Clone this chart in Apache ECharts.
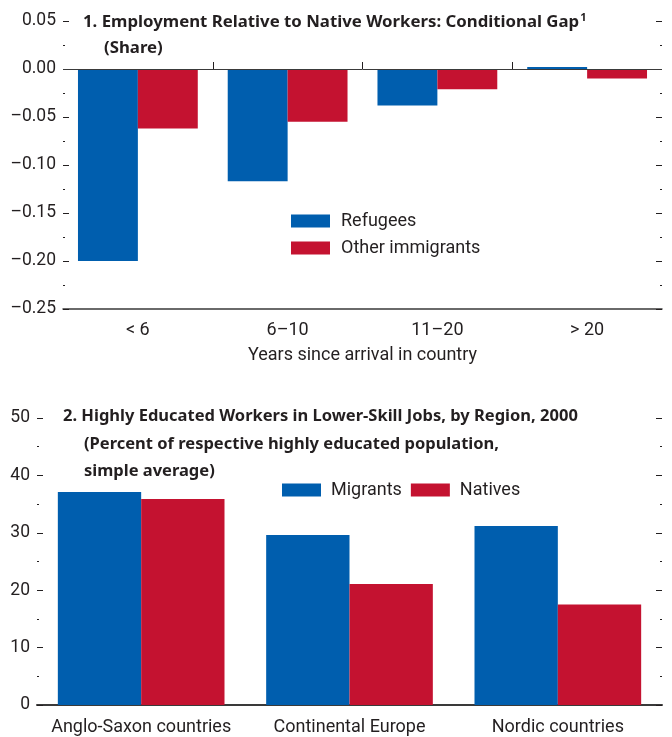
<!DOCTYPE html>
<html>
<head>
<meta charset="utf-8">
<script src="https://cdn.jsdelivr.net/npm/echarts@6/dist/echarts.min.js"></script>
<style>html,body{margin:0;padding:0;background:#fff}#c{width:672px;height:737px}</style>
</head>
<body>
<div id="c"></div>
<script>
// ---- Panel 1 data ----
const cats1 = ['< 6', '6–10', '11–20', '> 20'];
const refugees = [-0.200, -0.117, -0.038, 0.002];
const otherImmigrants = [-0.062, -0.055, -0.021, -0.010];
const yTicks1 = { min: -0.25, max: 0.05, step: 0.05 };
const boundaryTicks1 = [1, 2, 3];

// ---- Panel 2 data ----
const cats2 = ['Anglo-Saxon countries', 'Continental Europe', 'Nordic countries'];
const migrants = [37.1, 29.6, 31.2];
const natives = [35.9, 21.1, 17.5];
const yTicks2 = { min: 0, max: 50, step: 10 };

const FONT = 'Roboto, "Liberation Sans", sans-serif';
const TFONT = '"Noto Sans", Roboto, sans-serif';
const TSIZE = 16.8;
const TXT = '#231f20';
const BLUE = '#005eae';
const RED = '#c41230';

const chart = echarts.init(document.getElementById('c'), null, { renderer: 'canvas' });

function yAxisDef(grid, pos, t, fmt) {
  return {
    type: 'value', gridIndex: grid, position: pos,
    min: t.min, max: t.max, interval: t.step,
    axisLine: { show: false },
    axisTick: { show: true, inside: true, length: 6, lineStyle: { color: TXT, width: 1 } },
    minorTick: { show: true, splitNumber: 2, length: 2, lineStyle: { color: TXT, width: 1 } },
    splitLine: { show: false },
    axisLabel: pos === 'left' ? { show: true, formatter: fmt, color: TXT, fontFamily: FONT, fontSize: 17.5, margin: 7 } : { show: false }
  };
}

const titleStyle = { fontFamily: TFONT, fontWeight: 'bold', fontSize: TSIZE, color: TXT };

const option = {
  animation: false,
  backgroundColor: '#fff',
  textStyle: { fontFamily: FONT, color: TXT },
  title: [
    {
      left: 78, top: 7,
      text: '{t|1. Employment Relative to Native Workers: Conditional Gap}{s|1}',
      textStyle: { rich: {
        t: titleStyle,
        s: { fontFamily: TFONT, fontWeight: 'bold', fontSize: 11, color: TXT, padding: [0, 0, 9, 1] }
      } }
    },
    { left: 99, top: 35, text: '(Share)', textStyle: titleStyle },
    { left: 58, top: 403, text: '2. Highly Educated Workers in Lower-Skill Jobs, by Region, 2000', textStyle: { ...titleStyle, fontSize: 16.5 } },
    { left: 79, top: 431, text: '(Percent of respective highly educated population,', textStyle: { ...titleStyle, fontSize: 16.5 } },
    { left: 79, top: 458, text: 'simple average)', textStyle: { ...titleStyle, fontSize: 16.5 } }
  ],
  legend: [
    {
      orient: 'vertical', left: 286, top: 207,
      itemWidth: 39, itemHeight: 13, itemGap: 9,
      icon: 'rect',
      data: ['Refugees', 'Other immigrants'],
      textStyle: { fontFamily: FONT, fontSize: 18, color: TXT, padding: [0, 0, 0, 6] }
    },
    {
      orient: 'horizontal', left: 277, top: 476,
      itemWidth: 39, itemHeight: 13, itemGap: 9,
      icon: 'rect',
      data: ['Migrants', 'Natives'],
      textStyle: { fontFamily: FONT, fontSize: 18, color: TXT, padding: [0, 0, 0, 5] }
    }
  ],
  grid: [
    { left: 63, right: 10, top: 21, height: 288 },
    { left: 37, right: 10, top: 418, height: 287 }
  ],
  xAxis: [
    {
      type: 'category', gridIndex: 0, data: cats1, position: 'bottom',
      axisLine: { show: true, onZero: false, lineStyle: { color: '#3a3a3a', width: 1.5 } },
      axisTick: { show: false },
      axisLabel: { color: TXT, fontFamily: FONT, fontSize: 18, margin: 12, interval: 0 },
      name: 'Years since arrival in country', nameLocation: 'middle', nameGap: 37,
      nameTextStyle: { color: TXT, fontFamily: FONT, fontSize: 18 }
    },
    {
      type: 'value', gridIndex: 0, position: 'bottom', min: 0, max: 4,
      axisLine: { show: false },
      axisLabel: { show: false },
      splitLine: { show: false },
      axisTick: { show: true, inside: true, length: 7, customValues: boundaryTicks1, lineStyle: { color: TXT, width: 1 } }
    },
    {
      type: 'category', gridIndex: 1, data: cats2, position: 'bottom',
      axisLine: { show: true, onZero: false, lineStyle: { color: '#3a3a3a', width: 2 } },
      axisTick: { show: false },
      axisLabel: { color: TXT, fontFamily: FONT, fontSize: 18, margin: 13, interval: 0, hideOverlap: false }
    }
  ],
  yAxis: [
    yAxisDef(0, 'left', yTicks1, v => v.toFixed(2).replace('-', '\u2013')),
    yAxisDef(0, 'right', yTicks1),
    yAxisDef(1, 'left', yTicks2, v => String(v)),
    yAxisDef(1, 'right', yTicks2)
  ],
  series: [
    {
      name: 'Refugees', type: 'bar', xAxisIndex: 0, yAxisIndex: 0, data: refugees,
      itemStyle: { color: BLUE }, barGap: '0%', barCategoryGap: '20%',
      markLine: {
        silent: true, symbol: 'none', label: { show: false },
        lineStyle: { color: '#3a3a3a', width: 1, type: 'solid' },
        data: [{ yAxis: 0 }]
      }
    },
    {
      name: 'Other immigrants', type: 'bar', xAxisIndex: 0, yAxisIndex: 0, data: otherImmigrants,
      itemStyle: { color: RED }, barGap: '0%', barCategoryGap: '20%'
    },
    {
      name: 'Migrants', type: 'bar', xAxisIndex: 2, yAxisIndex: 2, data: migrants,
      itemStyle: { color: BLUE }, barGap: '0%', barCategoryGap: '20%'
    },
    {
      name: 'Natives', type: 'bar', xAxisIndex: 2, yAxisIndex: 2, data: natives,
      itemStyle: { color: RED }, barGap: '0%', barCategoryGap: '20%'
    }
  ]
};
chart.setOption(option);
</script>
</body>
</html>
